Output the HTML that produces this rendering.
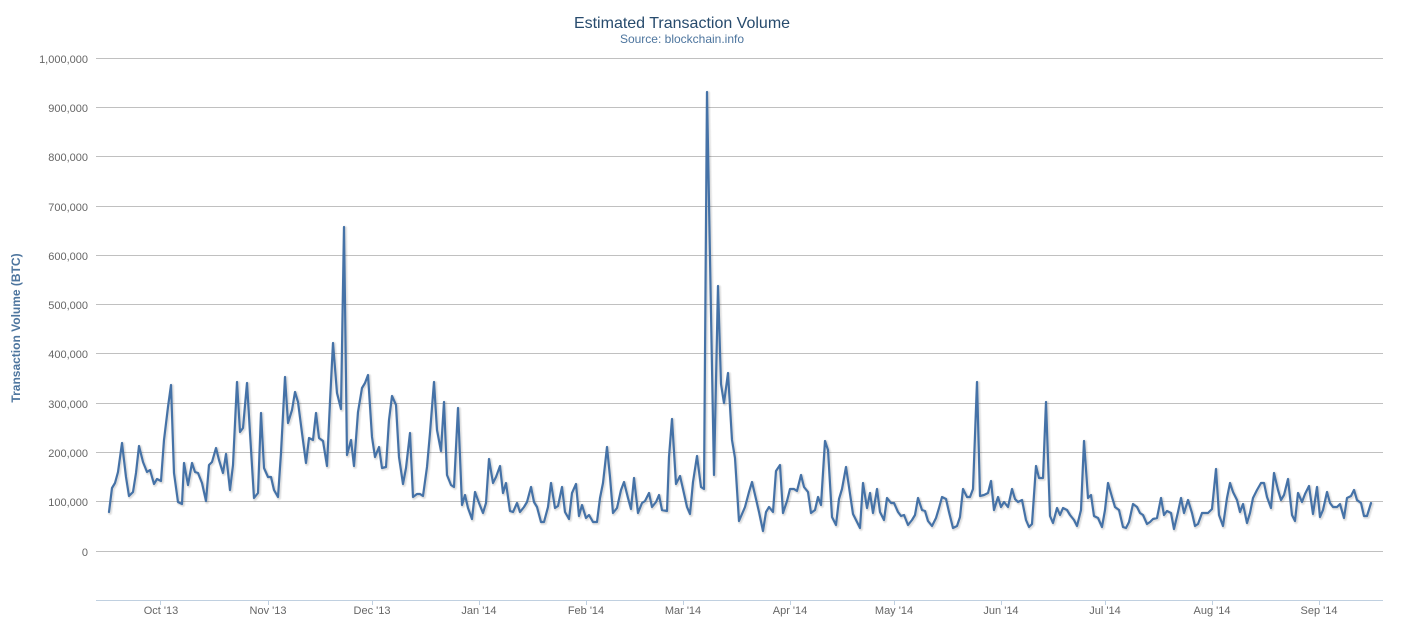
<!DOCTYPE html>
<html><head><meta charset="utf-8"><style>
body{margin:0;background:#fff;}
svg{display:block;font-family:"Liberation Sans","DejaVu Sans",sans-serif;}
</style></head><body>
<svg width="1403" height="637" viewBox="0 0 1403 637" xmlns="http://www.w3.org/2000/svg">
<defs>
<polyline id="s" points="109,512 112,488 115,483 118,472 122,443 126,477 129,496 133,492 136,473 139,446 143,462 147,472 150,470 154,484 157,479 161,481 164,440 168,407 171,385 174,473 178,502 182,504 184,463 188,485 192,463 195,472 198,473 202,483 206,501 209,465 212,462 216,448 219,460 223,473 226,454 230,490 233,465 237,382 240,432 243,428 247,383 250,433 254,498 258,493 261,413 264,468 268,477 271,477 274,490 278,497 281,453 285,377 288,423 292,410 295,392 298,402 302,433 306,463 309,438 313,440 316,413 319,438 323,441 327,466 330,402 333,343 337,393 341,409 344,227 347,455 351,440 354,466 358,412 362,388 365,383 368,375 372,437 375,457 379,447 382,468 386,467 389,420 392,396 396,405 399,457 403,484 406,468 410,433 413,497 417,494 420,494 423,496 427,467 430,433 434,382 437,430 441,451 444,402 447,475 451,485 454,487 458,408 462,505 465,495 468,508 472,519 475,492 479,503 483,513 486,503 489,459 493,483 496,477 500,466 503,493 506,483 510,511 513,512 517,503 520,512 524,507 527,502 531,487 534,502 537,507 541,522 544,522 548,507 551,483 555,508 558,506 562,487 565,512 569,519 572,493 576,484 579,516 582,505 586,518 589,515 593,522 597,522 600,498 603,483 607,447 610,477 613,513 617,508 621,490 624,482 628,498 631,509 634,478 638,513 642,503 645,501 649,493 652,507 656,502 659,495 662,510 667,511 669,457 672,419 676,484 680,476 683,489 687,507 690,514 693,482 697,456 701,487 704,489 707,92 711,313 714,475 718,286 721,384 724,403 728,373 732,440 735,458 739,521 742,514 745,507 749,492 752,482 756,499 759,512 763,531 766,512 769,507 773,512 776,471 780,465 783,513 787,501 790,489 794,489 797,491 801,475 804,487 808,492 811,513 815,510 818,497 821,505 825,441 828,450 832,517 836,525 839,499 842,489 846,467 849,487 853,514 856,520 860,528 863,483 867,508 870,493 873,513 877,489 880,512 884,520 887,498 891,503 894,503 898,512 901,516 904,515 908,525 912,520 915,515 918,498 922,510 925,511 928,521 932,526 936,518 939,508 942,497 946,499 949,512 953,528 957,526 960,517 963,489 967,497 970,497 973,489 977,382 980,496 984,495 988,493 991,481 994,510 998,497 1001,507 1004,502 1008,507 1012,489 1015,499 1018,502 1022,500 1026,520 1029,527 1032,524 1036,466 1039,478 1043,478 1046,402 1050,516 1053,523 1057,508 1060,515 1063,508 1067,510 1070,515 1074,520 1077,526 1081,510 1084,441 1088,498 1091,495 1094,516 1098,518 1102,527 1105,510 1108,483 1112,497 1115,507 1119,510 1123,527 1126,528 1129,522 1133,504 1137,507 1140,513 1143,515 1147,524 1150,522 1153,519 1157,518 1161,498 1164,515 1167,511 1171,513 1174,529 1178,512 1181,498 1184,513 1188,500 1192,513 1195,526 1198,524 1202,513 1205,513 1208,513 1212,509 1216,469 1219,515 1223,526 1227,498 1230,483 1233,492 1237,500 1240,512 1243,504 1247,523 1250,513 1253,498 1257,490 1261,483 1264,483 1267,497 1271,508 1274,473 1278,490 1281,500 1284,495 1288,479 1292,515 1295,521 1298,493 1302,502 1305,494 1309,486 1313,514 1317,487 1320,517 1323,510 1327,492 1330,503 1333,507 1337,507 1340,504 1344,518 1347,498 1351,496 1354,490 1357,500 1361,503 1364,516 1367,516 1371,503"/>
</defs>
<text x="682" y="28" text-anchor="middle" font-size="16" fill="#274b6d">Estimated Transaction Volume</text>
<text x="682" y="43" text-anchor="middle" font-size="12" fill="#4d759e">Source: blockchain.info</text>
<text transform="translate(20,328) rotate(-90)" text-anchor="middle" font-size="12" font-weight="bold" fill="#4d759e">Transaction Volume (BTC)</text>
<g stroke="#C0C0C0" stroke-width="1">
<line x1="96" y1="58.5" x2="1383" y2="58.5"/><line x1="96" y1="107.5" x2="1383" y2="107.5"/>
<line x1="96" y1="156.5" x2="1383" y2="156.5"/><line x1="96" y1="206.5" x2="1383" y2="206.5"/>
<line x1="96" y1="255.5" x2="1383" y2="255.5"/><line x1="96" y1="304.5" x2="1383" y2="304.5"/>
<line x1="96" y1="353.5" x2="1383" y2="353.5"/><line x1="96" y1="403.5" x2="1383" y2="403.5"/>
<line x1="96" y1="452.5" x2="1383" y2="452.5"/><line x1="96" y1="501.5" x2="1383" y2="501.5"/>
<line x1="96" y1="551.5" x2="1383" y2="551.5"/>
</g>
<g font-size="11" fill="#666" text-anchor="end">
<text x="88" y="63">1,000,000</text><text x="88" y="112">900,000</text><text x="88" y="161">800,000</text>
<text x="88" y="211">700,000</text><text x="88" y="260">600,000</text><text x="88" y="309">500,000</text>
<text x="88" y="358">400,000</text><text x="88" y="408">300,000</text><text x="88" y="457">200,000</text>
<text x="88" y="506">100,000</text><text x="88" y="556">0</text>
</g>
<line x1="96" y1="600.5" x2="1383" y2="600.5" stroke="#C0D0E0"/>
<g stroke="#C0D0E0">
<line x1="160.5" y1="600" x2="160.5" y2="605"/><line x1="268.5" y1="600" x2="268.5" y2="605"/>
<line x1="372.5" y1="600" x2="372.5" y2="605"/><line x1="479.5" y1="600" x2="479.5" y2="605"/>
<line x1="586.5" y1="600" x2="586.5" y2="605"/><line x1="683.5" y1="600" x2="683.5" y2="605"/>
<line x1="790.5" y1="600" x2="790.5" y2="605"/><line x1="894.5" y1="600" x2="894.5" y2="605"/>
<line x1="1001.5" y1="600" x2="1001.5" y2="605"/><line x1="1105.5" y1="600" x2="1105.5" y2="605"/>
<line x1="1212.5" y1="600" x2="1212.5" y2="605"/><line x1="1319.5" y1="600" x2="1319.5" y2="605"/>
</g>
<g font-size="11" fill="#666" text-anchor="middle">
<text x="161" y="614">Oct '13</text><text x="268" y="614">Nov '13</text><text x="372" y="614">Dec '13</text>
<text x="479" y="614">Jan '14</text><text x="586" y="614">Feb '14</text><text x="683" y="614">Mar '14</text>
<text x="790" y="614">Apr '14</text><text x="894" y="614">May '14</text><text x="1001" y="614">Jun '14</text>
<text x="1105" y="614">Jul '14</text><text x="1212" y="614">Aug '14</text><text x="1319" y="614">Sep '14</text>
</g>
<g fill="none" stroke-linejoin="round" stroke-linecap="round">
<use href="#s" stroke="#000" stroke-opacity="0.05" stroke-width="5" transform="translate(1,1)"/>
<use href="#s" stroke="#000" stroke-opacity="0.08" stroke-width="3" transform="translate(1,1)"/>
<use href="#s" stroke="#4572A7" stroke-width="2.2"/>
</g>
</svg>
</body></html>
